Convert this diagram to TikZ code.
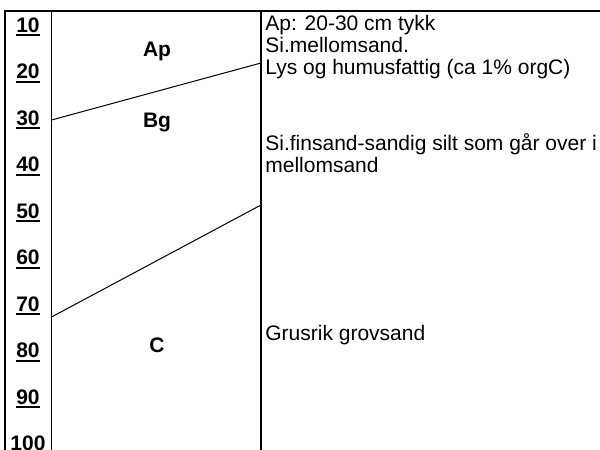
\documentclass[tikz,border=0pt]{standalone}
\usepackage{fontspec}
\setmainfont{Liberation Sans}
\usetikzlibrary{positioning}

\newsavebox{\numbox}
\newcommand{\ulnum}[1]{\sbox{\numbox}{#1}\rlap{\rule[-2.2pt]{\wd\numbox}{1pt}}\usebox{\numbox}}
\newcommand{\profilefont}{\fontsize{10.5}{11}\selectfont}

\begin{document}
\begin{tikzpicture}[
  x=0.5pt,y=-0.5pt,
  depth/.style={font=\profilefont\bfseries,inner sep=0pt,anchor=base},
  horizon/.style={font=\profilefont\bfseries,inner sep=0pt,anchor=base},
  desc/.style={font=\profilefont,inner sep=0pt,anchor=base west,align=left},
  frame/.style={line width=0.8pt},
  boundary/.style={line width=0.5pt}]

  \useasboundingbox (0,0) rectangle (600,450);
  \clip (0,0) rectangle (600,450);

  % table frame
  \draw[frame] (5,450) -- (5,11) -- (600,11);
  \draw[frame] (51.5,11) -- (51.5,450);
  \draw[frame] (261,11) -- (261,450);

  % depth scale
  \foreach \d [count=\i from 0] in {10,20,...,100}
    \node[depth] (d\d) at (28,32+46.5*\i) {\ulnum{\d}};

  % horizons
  \node[horizon] (ap) at (157,56) {Ap};
  \node[horizon] (bg) at (157,127) {Bg};
  \node[horizon] (c) at (157,352) {C};

  % horizon boundaries
  \coordinate (apbg-l) at (51.5,120);
  \coordinate (apbg-r) at (261,63);
  \coordinate (bgc-l) at (51.5,317);
  \coordinate (bgc-r) at (261,205);
  \draw[boundary] (apbg-l) -- (apbg-r);
  \draw[boundary] (bgc-l) -- (bgc-r);

  % descriptions (anchored on the last line)
  \node[desc] (apdesc) at (265,74) {Ap: 20-30 cm tykk\\Si.mellomsand.\\Lys og humusfattig (ca 1\% orgC)};
  \node[desc] (bgdesc) at (265,172) {Si.finsand-sandig silt som går over i\\mellomsand};
  \node[desc] (cdesc) at (265,340) {Grusrik grovsand};

\end{tikzpicture}
\end{document}
